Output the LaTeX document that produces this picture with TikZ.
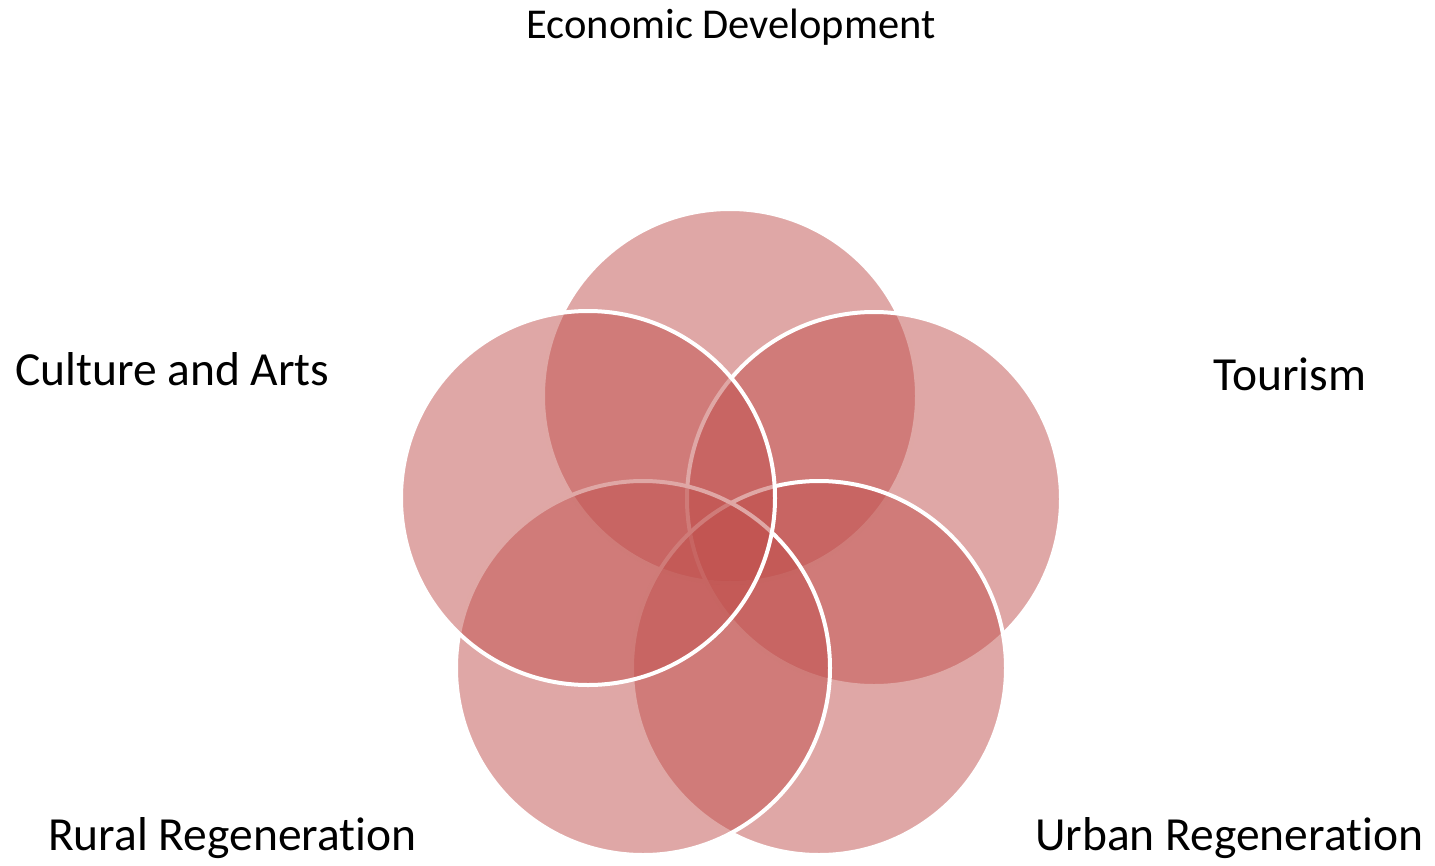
\documentclass[tikz,border=0pt]{standalone}
\usepackage{fontspec}
\setmainfont{Carlito}[Ligatures=NoCommon]
\definecolor{accent}{HTML}{C0504D}
\begin{document}
\begin{tikzpicture}[x=1pt,y=-1pt,
  venn/.style={fill=accent,fill opacity=0.5,draw=white,draw opacity=1,line width=4pt},
  biglabel/.style={anchor=base west,inner sep=0pt,font=\fontsize{47.5}{52}\selectfont},
  toplabel/.style={anchor=base,inner sep=0pt,font=\fontsize{42.5}{46}\selectfont}]
\useasboundingbox (0,0) rectangle (1435,865);
\def\R{187}
\path[venn] (730,396) circle[radius=\R];
\path[venn] (874,499) circle[radius=\R];
\path[venn] (819,668) circle[radius=\R];
\path[venn] (643,668) circle[radius=\R];
\path[venn] (588,498) circle[radius=\R];
\node[toplabel] (econ) at (731,38) {Economic Development};
\node[biglabel] (cult) at (15,385) {Culture and Arts};
\node[biglabel] (tour) at (1213,390) {Tourism};
\node[biglabel] (rural) at (48,850) {Rural Regeneration};
\node[biglabel] (urban) at (1035,850) {Urban Regeneration};
\end{tikzpicture}
\end{document}
